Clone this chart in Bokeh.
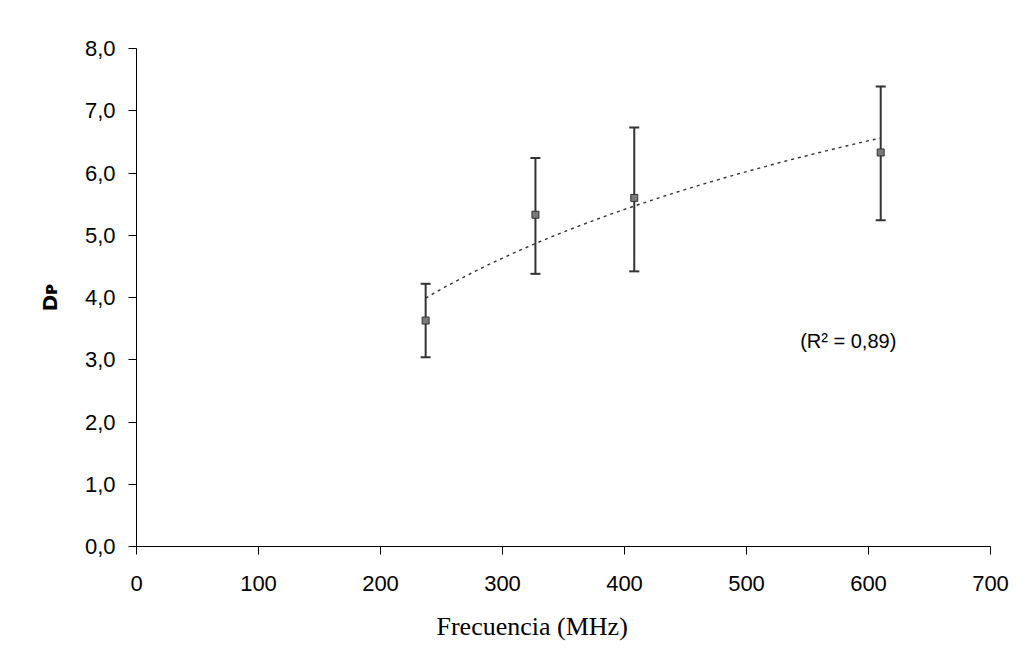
import numpy as np
from bokeh.plotting import figure
from bokeh.models import Range1d, FixedTicker, ColumnDataSource, Whisker, TeeHead, Label, Title
from bokeh.embed import file_html
from bokeh.resources import INLINE

# ---- data ----
freq = [237, 327, 408, 610]            # MHz
dp = [3.63, 5.33, 5.60, 6.33]          # mean Dp
dp_upper = [4.22, 6.24, 6.73, 7.39]    # upper error bound
dp_lower = [3.04, 4.38, 4.42, 5.24]    # lower error bound

x_ticks = [0, 100, 200, 300, 400, 500, 600, 700]
y_ticks = [0, 1, 2, 3, 4, 5, 6, 7, 8]
y_tick_labels = ["0,0", "1,0", "2,0", "3,0", "4,0", "5,0", "6,0", "7,0", "8,0"]
r2_text = "(R\u00b2 = 0,89)"
x_label = "Frecuencia (MHz)"
y_label = "D\u1d18"   # D with small P

# logarithmic trend line fitted to the data (as in the original spreadsheet trendline)
b, a = np.polyfit(np.log(freq), dp, 1)
tx = np.linspace(min(freq), max(freq), 120)
ty = a + b * np.log(tx)

p = figure(width=1017, height=657, output_backend="svg", toolbar_location=None,
           x_range=Range1d(0, 700), y_range=Range1d(0, 8),
           min_border_left=136, min_border_right=27, min_border_top=48, min_border_bottom=111)
p.outline_line_color = None
p.xgrid.visible = False
p.ygrid.visible = False
p.background_fill_color = "white"
p.border_fill_color = "white"

for ax in (p.xaxis[0], p.yaxis[0]):
    ax.axis_line_color = "black"
    ax.axis_line_width = 1
    ax.major_tick_out = 8
    ax.major_tick_in = 0
    ax.minor_tick_out = 0
    ax.minor_tick_in = 0
    ax.major_tick_line_color = "black"
    ax.major_label_text_font = "Liberation Sans"
    ax.major_label_text_font_size = "22px"
    ax.major_label_text_color = "black"

p.xaxis.ticker = FixedTicker(ticks=x_ticks)
p.xaxis.major_label_standoff = 21
p.yaxis.ticker = FixedTicker(ticks=y_ticks)
p.yaxis.major_label_overrides = {t: l for t, l in zip(y_ticks, y_tick_labels)}
p.yaxis.major_label_standoff = 13
p.yaxis.axis_label = y_label
p.yaxis.axis_label_text_font = "DejaVu Sans"
p.yaxis.axis_label_text_font_style = "bold"
p.yaxis.axis_label_text_font_size = "20px"
p.yaxis.axis_label_text_color = "black"
p.yaxis.axis_label_standoff = 20

# trend line
p.line(tx, ty, line_color="#333333", line_width=1.4, line_dash="3 4")

# error bars
src = ColumnDataSource(dict(x=freq, y=dp, upper=dp_upper, lower=dp_lower))
wh = Whisker(source=src, base="x", upper="upper", lower="lower", dimension="height",
             line_color="#333333", line_width=2,
             upper_head=TeeHead(size=10, line_color="#333333", line_width=2),
             lower_head=TeeHead(size=10, line_color="#333333", line_width=2))
p.add_layout(wh)

# points
p.scatter("x", "y", source=src, marker="square", size=7,
          fill_color="#7a7a7a", line_color="#333333", line_width=1)

# R^2 annotation
p.add_layout(Label(x=544, y=3.30, text=r2_text, text_font="Liberation Sans",
                   text_font_size="20px", text_color="black", text_baseline="alphabetic"))

# x axis title (slightly left of centre, as in the original)
xt = Title(text=x_label, align="left", offset=300, text_font="Liberation Serif",
           text_font_size="26px", text_font_style="normal", text_color="black", standoff=32)
p.add_layout(xt, "below")

open("out.html", "w").write(file_html(p, INLINE))
